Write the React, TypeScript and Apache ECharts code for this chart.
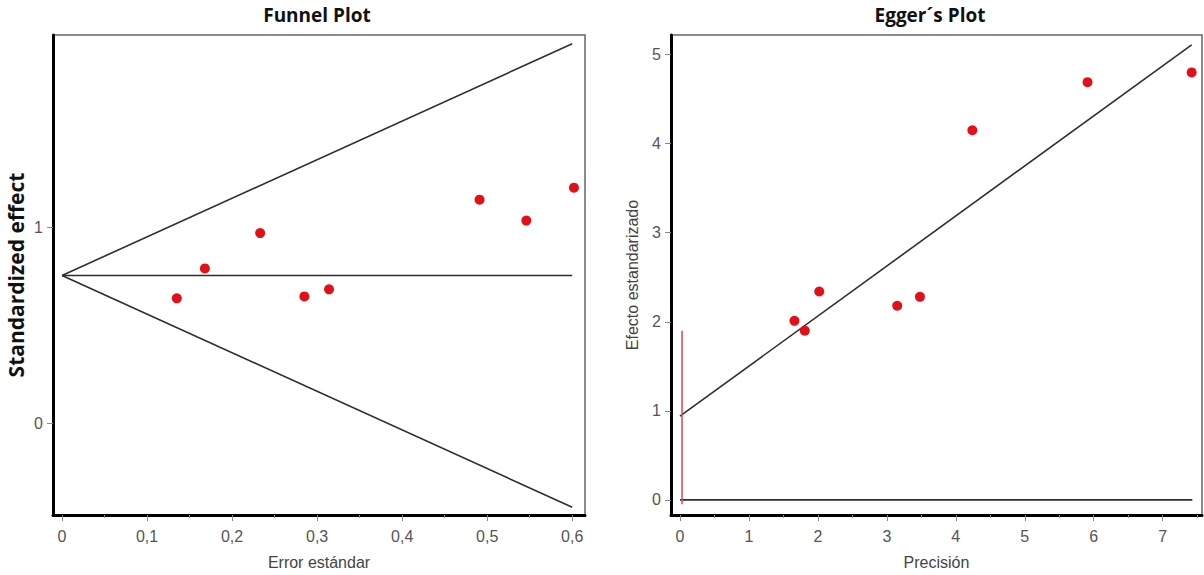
import React, { useEffect, useRef } from "react";
import * as echarts from "echarts";

// ---- Data ----
// Funnel plot: standard error (x) vs standardized effect (y)
const funnelSE = [0.135, 0.168, 0.233, 0.285, 0.314, 0.491, 0.546, 0.602];
const funnelEffect = [0.638, 0.791, 0.972, 0.648, 0.684, 1.143, 1.036, 1.204];
const funnelPooled = 0.755;
const funnelSEMax = 0.6;
const funnelUpperEnd = 1.94;
const funnelLowerEnd = -0.43;

// Egger's plot: precision (x) vs standardized effect (y)
const eggerPrecision = [1.66, 1.81, 2.02, 3.15, 3.48, 4.24, 5.91, 7.42];
const eggerEffect = [2.01, 1.9, 2.34, 2.18, 2.28, 4.15, 4.69, 4.8];
const eggerLineStart = [0, 0.94];
const eggerLineEnd = [7.42, 5.11];
const eggerZeroLineEnd = 7.43;
const eggerInterceptX = 0.03;
const eggerInterceptCI = [-0.05, 1.9];

// Tick labels
const funnelXTicks = [0, 0.1, 0.2, 0.3, 0.4, 0.5, 0.6];
const funnelXMinor = [0.05, 0.15, 0.25, 0.35, 0.45, 0.55];
const funnelYTicks = [0, 1];
const eggerXTicks = [0, 1, 2, 3, 4, 5, 6, 7];
const eggerXMinor = [0.5, 1.5, 2.5, 3.5, 4.5, 5.5, 6.5, 7.5];
const eggerYTicks = [0, 1, 2, 3, 4, 5];

const RED = "#e3101a";
const LINE = "#2e2e2e";
const LABEL = "#555555";
const SANS = "'Liberation Sans', Arial, sans-serif";
const TITLE_FONT = "'Open Sans', 'Noto Sans', sans-serif";

function commaFmt(v: number) {
  return String(Math.round(v * 100) / 100).replace(".", ",");
}

export default function App() {
  const ref = useRef<HTMLDivElement>(null);

  useEffect(() => {
    document.body.style.margin = "0";
    document.body.style.overflow = "hidden";
    const chart = echarts.init(ref.current!, undefined, { renderer: "svg" });

    const mainAxisLine = { show: true, onZero: false, lineStyle: { color: "#000", width: 3 } };
    const tick = { show: true, length: 6, lineStyle: { color: "#888", width: 1 } };
    const label = { color: LABEL, fontSize: 16, fontFamily: SANS };

    const minorXAxis = (gridIndex: number, min: number, max: number, values: number[]) => ({
      type: "value",
      gridIndex,
      position: "bottom",
      min,
      max,
      axisLine: { show: false, onZero: false },
      axisLabel: { show: false },
      splitLine: { show: false },
      axisTick: {
        show: true,
        length: 3,
        customValues: values,
        lineStyle: { color: "#888", width: 1 },
      },
    });

    const option: any = {
      animation: false,
      backgroundColor: "#fff",
      grid: [
        { left: 53, top: 35, width: 532, height: 481, show: true, borderColor: "#666", borderWidth: 1.5 },
        { left: 671, top: 35, width: 531, height: 481, show: true, borderColor: "#666", borderWidth: 1.5 },
      ],
      xAxis: [
        {
          type: "value",
          gridIndex: 0,
          position: "bottom",
          min: -0.0106,
          max: 0.615,
          axisLine: mainAxisLine,
          axisTick: { ...tick, customValues: funnelXTicks },
          axisLabel: { ...label, margin: 13, customValues: funnelXTicks, formatter: (v: number) => commaFmt(v) },
          splitLine: { show: false },
          name: "Error estándar",
          nameLocation: "middle",
          nameGap: 39,
          nameTextStyle: { color: "#444", fontSize: 16, fontFamily: SANS },
        },
        {
          type: "value",
          gridIndex: 1,
          position: "bottom",
          min: -0.13,
          max: 7.57,
          axisLine: mainAxisLine,
          axisTick: { ...tick, customValues: eggerXTicks },
          axisLabel: { ...label, margin: 13, customValues: eggerXTicks, formatter: (v: number) => String(Math.round(v)) },
          splitLine: { show: false },
          name: "Precisión",
          nameLocation: "middle",
          nameGap: 39,
          nameTextStyle: { color: "#444", fontSize: 16, fontFamily: SANS },
        },
        minorXAxis(0, -0.0106, 0.615, funnelXMinor),
        minorXAxis(1, -0.13, 7.57, eggerXMinor),
      ],
      yAxis: [
        {
          type: "value",
          gridIndex: 0,
          min: -0.47,
          max: 1.985,
          axisLine: mainAxisLine,
          axisTick: { ...tick, customValues: funnelYTicks },
          axisLabel: { ...label, margin: 10, customValues: funnelYTicks, formatter: (v: number) => String(Math.round(v)) },
          splitLine: { show: false },
          name: "Standardized effect",
          nameLocation: "middle",
          nameGap: 27,
          nameTextStyle: { color: "#111", fontSize: 21, fontWeight: "bold", fontFamily: TITLE_FONT },
        },
        {
          type: "value",
          gridIndex: 1,
          min: -0.17,
          max: 5.22,
          axisLine: mainAxisLine,
          axisTick: { ...tick, customValues: eggerYTicks },
          axisLabel: { ...label, margin: 10, customValues: eggerYTicks, formatter: (v: number) => String(Math.round(v)) },
          splitLine: { show: false },
          name: "Efecto estandarizado",
          nameLocation: "middle",
          nameGap: 31,
          nameTextStyle: { color: "#444", fontSize: 16, fontFamily: SANS },
        },
      ],
      graphic: [
        {
          type: "text",
          x: 317,
          y: 15,
          style: {
            text: "Funnel Plot",
            fill: "#111",
            font: `bold 19px ${TITLE_FONT}`,
            textAlign: "center",
            textVerticalAlign: "middle",
          },
        },
        {
          type: "text",
          x: 930,
          y: 15,
          style: {
            text: "Egger´s Plot",
            fill: "#111",
            font: `bold 19px ${TITLE_FONT}`,
            textAlign: "center",
            textVerticalAlign: "middle",
          },
        },
      ],
      series: [
        {
          type: "line",
          xAxisIndex: 0,
          yAxisIndex: 0,
          data: [[0, funnelPooled], [funnelSEMax, funnelUpperEnd]],
          symbol: "none",
          lineStyle: { color: LINE, width: 1.6 },
        },
        {
          type: "line",
          xAxisIndex: 0,
          yAxisIndex: 0,
          data: [[0, funnelPooled], [funnelSEMax, funnelLowerEnd]],
          symbol: "none",
          lineStyle: { color: LINE, width: 1.6 },
        },
        {
          type: "line",
          xAxisIndex: 0,
          yAxisIndex: 0,
          data: [[0, funnelPooled], [funnelSEMax, funnelPooled]],
          symbol: "none",
          lineStyle: { color: LINE, width: 1.6 },
        },
        {
          type: "scatter",
          xAxisIndex: 0,
          yAxisIndex: 0,
          data: funnelSE.map((x, i) => [x, funnelEffect[i]]),
          symbolSize: 10,
          itemStyle: { color: RED, opacity: 1 },
          z: 5,
        },
        {
          type: "line",
          xAxisIndex: 1,
          yAxisIndex: 1,
          data: [eggerLineStart, eggerLineEnd],
          symbol: "none",
          lineStyle: { color: LINE, width: 1.6 },
        },
        {
          type: "line",
          xAxisIndex: 1,
          yAxisIndex: 1,
          data: [[0, 0], [eggerZeroLineEnd, 0]],
          symbol: "none",
          lineStyle: { color: LINE, width: 1.6 },
        },
        {
          type: "line",
          xAxisIndex: 1,
          yAxisIndex: 1,
          data: [[eggerInterceptX, eggerInterceptCI[0]], [eggerInterceptX, eggerInterceptCI[1]]],
          symbol: "none",
          lineStyle: { color: "#d9535c", width: 1.6 },
          z: 4,
        },
        {
          type: "scatter",
          xAxisIndex: 1,
          yAxisIndex: 1,
          data: eggerPrecision.map((x, i) => [x, eggerEffect[i]]),
          symbolSize: 10,
          itemStyle: { color: RED, opacity: 1 },
          z: 5,
        },
      ],
    };

    chart.setOption(option);
    return () => chart.dispose();
  }, []);

  return <div ref={ref} style={{ width: 1204, height: 575 }} />;
}
